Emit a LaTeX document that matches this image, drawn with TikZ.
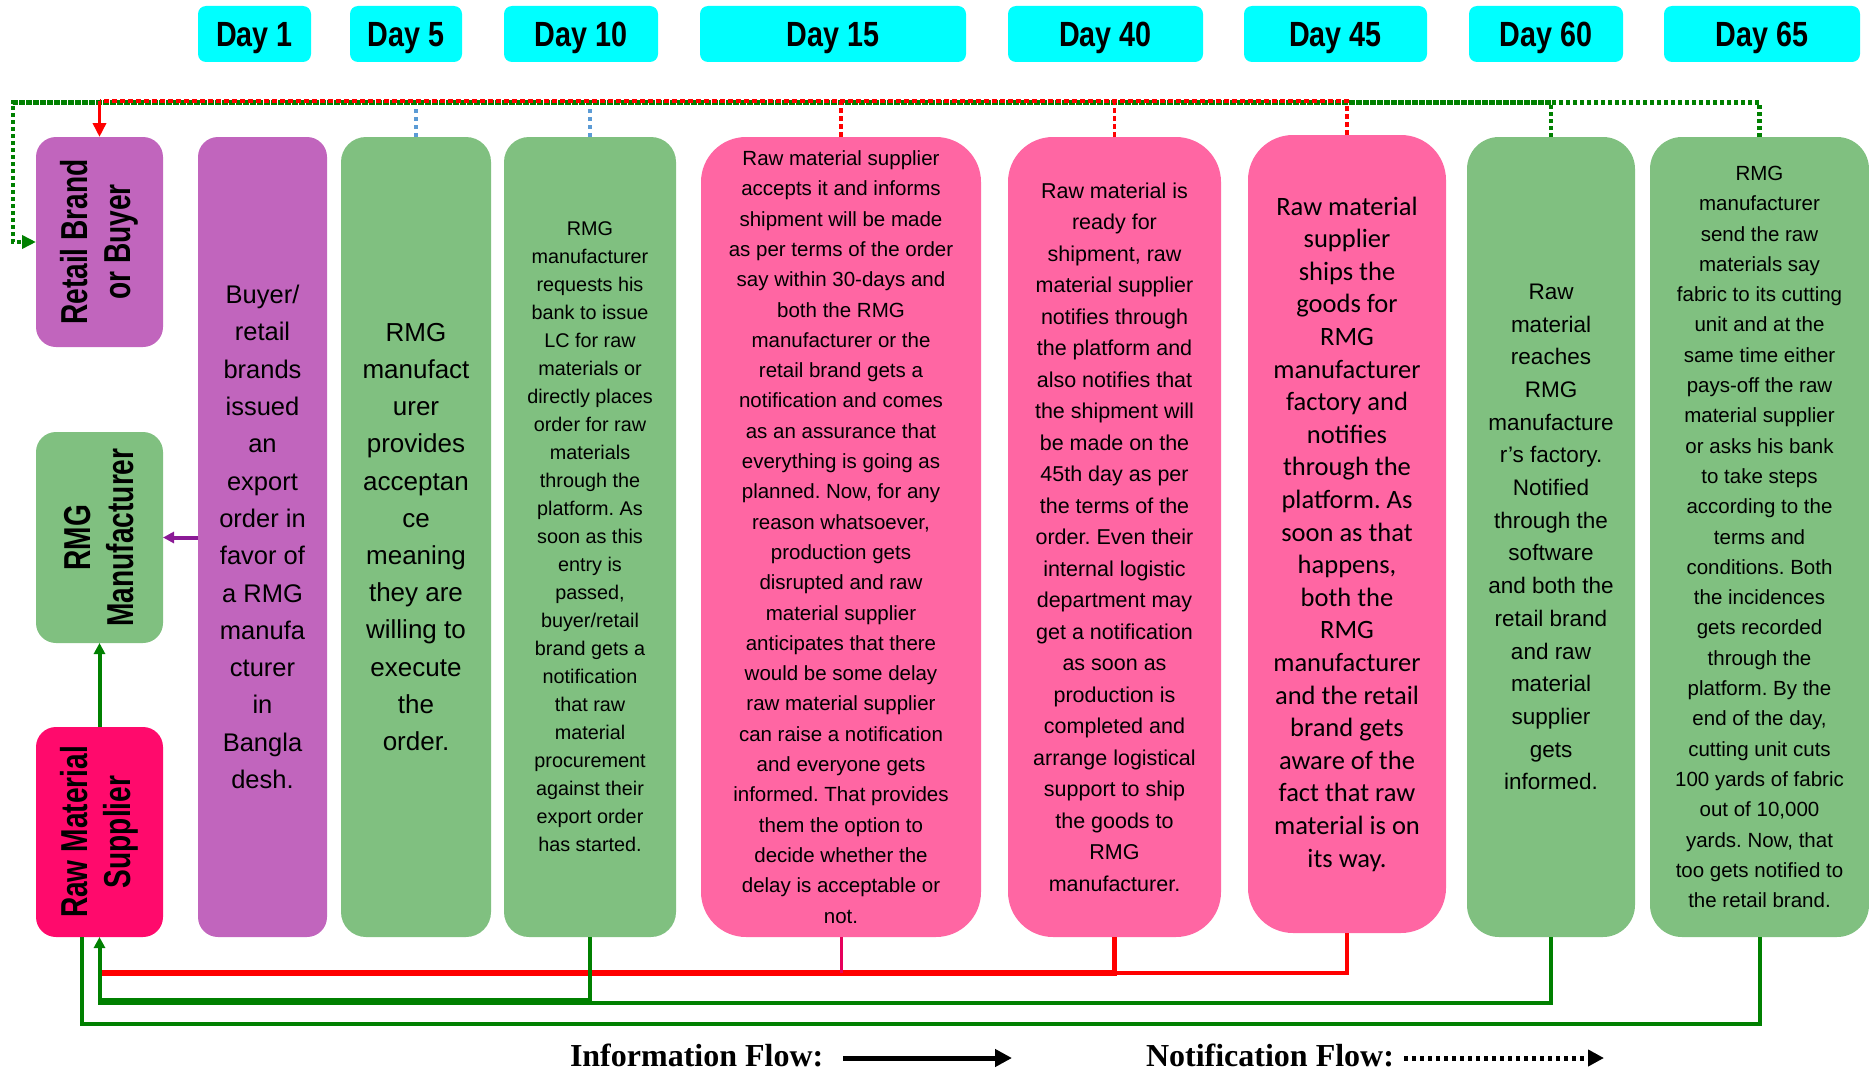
\documentclass[tikz,border=0pt]{standalone}
\usepackage{fontspec}
\setmainfont{Liberation Sans}
\newfontfamily\dayfont[FakeStretch=0.82]{Liberation Sans}
\newfontfamily\sidefont[FakeStretch=0.75]{Liberation Sans}
\newfontfamily\calfont{Carlito}
\newfontfamily\legfont{Liberation Serif}
\usetikzlibrary{arrows.meta}
\frenchspacing

\definecolor{purpfill}{HTML}{C165BD}
\definecolor{greenfill}{HTML}{80C080}
\definecolor{pinkfill}{HTML}{FF66A3}
\definecolor{rawfill}{HTML}{FF0A6C}
\definecolor{daycyan}{HTML}{00FFFF}
\definecolor{lgreen}{HTML}{008000}
\definecolor{lred}{HTML}{FF0000}
\definecolor{lmagenta}{HTML}{E6005C}
\definecolor{lblue}{HTML}{5B9BD5}
\definecolor{lpurple}{HTML}{8B1A96}

\begin{document}
\begin{tikzpicture}[x=1pt,y=-1pt,
  every node/.style={inner sep=0pt, outer sep=0pt},
  daybox/.style={fill=daycyan, rounded corners=8pt, minimum height=56pt, text depth=0pt,
    font=\dayfont\bfseries\fontsize{35}{40}\selectfont},
  sidebox/.style={rounded corners=20pt, minimum width=127pt},
  sidetext/.style={rotate=90, align=center, font=\sidefont\bfseries\fontsize{37.5}{43}\selectfont},
  colbox/.style={align=center, minimum height=800pt},
  gdot/.style={draw=lgreen, line width=4.5pt, dash pattern=on 4pt off 3pt},
  rdot/.style={draw=lred, line width=3.5pt, dash pattern=on 5pt off 3pt},
  bdot/.style={draw=lblue, line width=3.5pt, dash pattern=on 4pt off 4pt},
  gline/.style={draw=lgreen, line width=4pt},
  rline/.style={draw=lred, line width=5.5pt},
  rthin/.style={draw=lred, line width=3.5pt},
  tip/.style={-{Triangle[length=14pt,width=13pt]}},
  smalltip/.style={-{Triangle[length=11pt,width=11pt]}},
  legtext/.style={anchor=base west, font=\legfont\bfseries\fontsize{32}{36}\selectfont}
]
\useasboundingbox (0,0) rectangle (1869,1073);

% timeline labels
\node[daybox, minimum width=113pt] (d1) at (254.5,34) {Day 1};
\node[daybox, minimum width=112pt] (d2) at (406,34) {Day 5};
\node[daybox, minimum width=154pt] (d3) at (581,34) {Day 10};
\node[daybox, minimum width=266pt] (d4) at (833,34) {Day 15};
\node[daybox, minimum width=195pt] (d5) at (1105.5,34) {Day 40};
\node[daybox, minimum width=183pt] (d6) at (1335.5,34) {Day 45};
\node[daybox, minimum width=154pt] (d7) at (1546,34) {Day 60};
\node[daybox, minimum width=196pt] (d8) at (1762,34) {Day 65};

% actors
\node[sidebox, fill=purpfill, minimum height=210pt] (retail) at (99.5,242) {};
\node[sidetext] (retailtxt) at (retail.center) {Retail Brand\\or Buyer};
\node[sidebox, fill=greenfill, minimum height=211pt] (rmg) at (99.5,537.5) {};
\node[sidetext] (rmgtxt) at (rmg.center) {RMG\\Manufacturer};
\node[sidebox, fill=rawfill, minimum height=210pt] (rawsup) at (99.5,832) {};
\node[sidetext] (rawtxt) at (rawsup.center) {Raw Material\\Supplier};

% steps
\node[colbox, fill=purpfill, rounded corners=20pt, minimum width=129pt,
  font=\fontsize{25.5}{37.3}\selectfont] (c1) at (262.5,537)
  {Buyer/\\retail\\brands\\issued\\an\\export\\order in\\favor of\\a RMG\\manufa\\cturer\\in\\Bangla\\desh.};
\node[colbox, fill=greenfill, rounded corners=25pt, minimum width=150pt,
  font=\fontsize{26}{37.2}\selectfont] (c2) at (416,537)
  {RMG\\manufact\\urer\\provides\\acceptan\\ce\\meaning\\they are\\willing to\\execute\\the\\order.};
\node[colbox, fill=greenfill, rounded corners=25pt, minimum width=172pt,
  font=\fontsize{19.8}{28}\selectfont] (c3) at (590,537)
  {RMG\\manufacturer\\requests his\\bank to issue\\LC for raw\\materials or\\directly places\\order for raw\\materials\\through the\\platform. As\\soon as this\\entry is\\passed,\\buyer/retail\\brand gets a\\notification\\that raw\\material\\procurement\\against their\\export order\\has started.};
\node[colbox, fill=pinkfill, rounded corners=45pt, minimum width=280pt,
  font=\fontsize{20.5}{30.3}\selectfont] (c4) at (841,537)
  {Raw material supplier\\accepts it and informs\\shipment will be made\\as per terms of the order\\say within 30-days and\\both the RMG\\manufacturer or the\\retail brand gets a\\notification and comes\\as an assurance that\\everything is going as\\planned. Now, for any\\reason whatsoever,\\production gets\\disrupted and raw\\material supplier\\anticipates that there\\would be some delay\\raw material supplier\\can raise a notification\\and everyone gets\\informed. That provides\\them the option to\\decide whether the\\delay is acceptable or\\not.};
\node[colbox, fill=pinkfill, rounded corners=45pt, minimum width=213pt,
  font=\fontsize{21.5}{31.5}\selectfont] (c5) at (1114.5,537)
  {Raw material is\\ready for\\shipment, raw\\material supplier\\notifies through\\the platform and\\also notifies that\\the shipment will\\be made on the\\45th day as per\\the terms of the\\order. Even their\\internal logistic\\department may\\get a notification\\as soon as\\production is\\completed and\\arrange logistical\\support to ship\\the goods to\\RMG\\manufacturer.};
\node[colbox, fill=pinkfill, rounded corners=45pt, minimum width=198pt, minimum height=798pt,
  font=\calfont\fontsize{26.5}{32.6}\selectfont] (c6) at (1347,534)
  {Raw material\\supplier\\ships the\\goods for\\RMG\\manufacturer\\factory and\\notifies\\through the\\platform. As\\soon as that\\happens,\\both the\\RMG\\manufacturer\\and the retail\\brand gets\\aware of the\\fact that raw\\material is on\\its way.};
\node[colbox, fill=greenfill, rounded corners=32pt, minimum width=168pt,
  font=\fontsize{22.5}{32.7}\selectfont] (c7) at (1551,537)
  {Raw\\material\\reaches\\RMG\\manufacture\\r's factory.\\Notified\\through the\\software\\and both the\\retail brand\\and raw\\material\\supplier\\gets\\informed.};
\node[colbox, fill=greenfill, rounded corners=32pt, minimum width=219pt,
  font=\fontsize{20.5}{30.3}\selectfont] (c8) at (1759.5,537)
  {RMG\\manufacturer\\send the raw\\materials say\\fabric to its cutting\\unit and at the\\same time either\\pays-off the raw\\material supplier\\or asks his bank\\to take steps\\according to the\\terms and\\conditions. Both\\the incidences\\gets recorded\\through the\\platform. By the\\end of the day,\\cutting unit cuts\\100 yards of fabric\\out of 10,000\\yards. Now, that\\too gets notified to\\the retail brand.};

% notification routes along the top
\coordinate (topL) at (13,102.5);
\coordinate (topR) at (13,101);
\coordinate (blueTop) at (0,107);
\draw[gdot, tip] (c8.north) -- (c8.north |- topL) -- (topL) |- (retail.west);
\draw[gdot] (c7.north) -- (c7.north |- topL) -- (topL);
\draw[rdot] (c6.north) -- (c6.north |- topR) -- (retail.north |- topR);
\draw[rdot] (c5.north) -- (c5.north |- topR);
\draw[rdot] (c4.north) -- (c4.north |- topR);
\draw[bdot] (c2.north) -- (c2.north |- blueTop);
\draw[bdot] (c3.north) -- (c3.north |- blueTop);
\draw[draw=lred, line width=3.5pt, tip] (retail.north |- topR) -- (retail.north);

% information routes between the actors
\draw[draw=lpurple, line width=4pt, smalltip] (c1.west |- rmg.east) -- (rmg.east);
\draw[gline, smalltip] (rawsup.north) -- (rmg.south);

% information routes along the bottom
\coordinate (yR) at (0,973);
\coordinate (yGa) at (0,1000);
\coordinate (yGb) at (0,1003);
\coordinate (outL) at (82,1024);
\draw[rline] (c5.south) -- (c5.south |- yR) -- (rawsup.south |- yR);
\draw[rthin] (c6.south) -- (c6.south |- yR) -- (c5.south |- yR);
\draw[draw=lmagenta, line width=3pt] (c4.south) -- (c4.south |- yR);
\draw[gline] (c3.south) -- (c3.south |- yGa) -- (rawsup.south |- yGa);
\draw[gline, smalltip] (c7.south) -- (c7.south |- yGb) -- (rawsup.south |- yGb) -- (rawsup.south);
\draw[gline] (c8.south) -- (c8.south |- outL) -- (outL) -- (outL |- rawsup.south);

% key
\node[legtext] (info) at (570,1066) {Information Flow:};
\node[legtext] (notif) at (1146,1066) {Notification Flow:};
\coordinate (infoA) at (843,1058);
\coordinate (infoB) at (1012,1058);
\coordinate (notifA) at (1404,1058);
\coordinate (notifB) at (1604,1058);
\draw[line width=5pt, -{Triangle[length=17pt,width=17pt]}] (infoA) -- (infoB);
\draw[line width=5pt, dash pattern=on 4pt off 4pt, -{Triangle[length=16pt,width=16pt]}] (notifA) -- (notifB);
\end{tikzpicture}
\end{document}
